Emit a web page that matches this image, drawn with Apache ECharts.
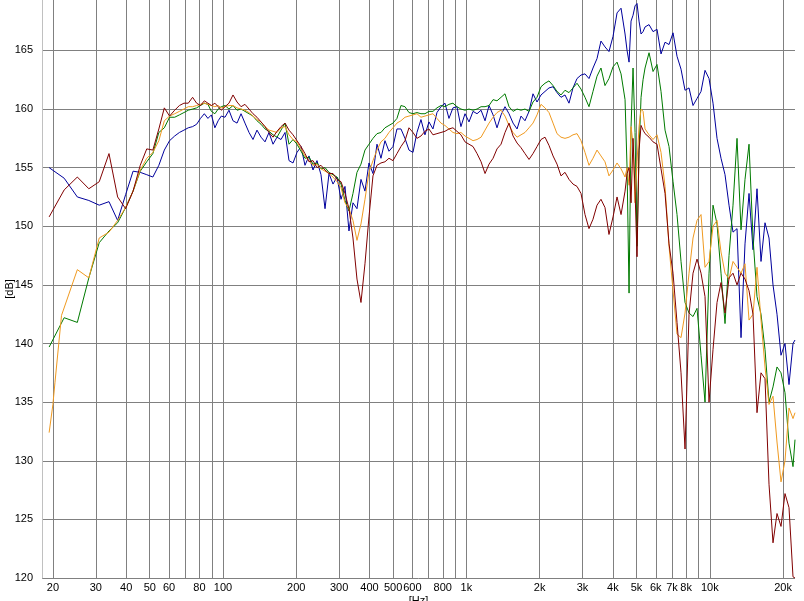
<!DOCTYPE html>
<html>
<head>
<meta charset="utf-8">
<script src="https://cdn.jsdelivr.net/npm/echarts@6/dist/echarts.min.js"></script>
<style>
html,body{margin:0;padding:0;background:#fff;}
#chart{width:804px;height:601px;}
</style>
</head>
<body>
<div id="chart"></div>
<script>
// Frequencies (Hz)
const freqs = [
19.3, 20.0, 20.4, 21.7, 22.25, 25.2, 28.1, 31.0, 34.0, 36.9, 39.8, 42.7, 45.7, 48.6, 51.5, 54.5, 57.4, 60.3, 63.3, 66.2, 69.1, 72.0, 75.0, 77.9, 80.8, 83.8, 86.7, 89.6, 92.6, 95.5, 98.4,
101.9, 105.8, 109.9, 114.2, 118.6, 123.1, 127.9, 132.8, 137.9, 143.3,
148.8, 154.5, 160.5, 166.7, 173.1, 179.8, 186.7, 193.9, 201.4, 209.2,
217.2, 225.6, 234.3, 243.3, 252.7, 262.5, 272.6, 283.1, 294.0, 305.4,
317.1, 329.3, 342.0, 355.2, 368.9, 383.1, 397.9, 413.2, 429.2, 445.7,
462.9, 480.8, 499.3, 518.5, 538.5, 559.3, 580.9, 603.3, 626.5, 650.7,
675.8, 701.8, 728.9, 757.0, 786.2, 816.5, 848.0, 880.7, 914.6, 949.9,
987, 1025, 1065, 1106, 1149, 1193, 1239, 1287, 1336, 1388,
1441, 1497, 1555, 1615, 1677, 1741, 1809, 1878, 1951, 2026,
2104, 2185, 2270, 2357, 2448, 2542, 2640, 2742, 2848, 2958,
3072, 3190, 3313, 3441, 3573, 3711, 3854, 4005, 4160, 4320,
4487,
4573, 4660, 4749, 4839, 4932, 5026, 5122, 5220, 5320, 5421,
5630, 5847, 6072, 6306, 6550, 6802, 7065, 7337, 7620, 7914,
8219, 8536, 8865, 9207, 9562, 9930, 10313, 10711, 11124, 11553,
11999, 12461, 12942, 13441, 13959, 14498, 15057, 15637, 16240, 16866,
17517, 18192, 18894, 19622, 20379, 21165, 21982,
22400
];

const blueDb = [
155.0, null, null, null, 154.1, 152.5, 152.2, 151.8, 152.1, 150.5, 152.7, 154.7, 154.6, 154.4, 154.2, 155.2, 156.5, 157.3, 157.7, 158.0, 158.2, 158.4, 158.5, 158.7, 159.2, 159.6, 159.2, 159.5, 158.4, 159.0, 159.4,
159.3, 159.9, 159.0, 158.8, 159.6, 158.8, 158.0, 157.4, 158.2, 157.6,
157.2, 158.0, 157.0, 157.6, 157.4, 158.0, 155.6, 155.4, 156.3, 156.8,
155.2, 156.0, 154.8, 155.6, 154.4, 151.5, 154.5, 153.6, 154.2, 152.3,
153.4, 149.6, 152.0, 151.5, 154.0, 153.0, 155.4, 154.5, 157.0, 155.8,
157.3, 156.4, 156.8, 158.3, 158.3, 157.5, 156.5, 156.3, 158.0, 159.1,
157.8, 158.9, 158.3, 159.7, 160.2, 160.5, 159.2, 160.1, 160.2, 158.5,
159.6, 158.9, 159.8, 159.6, 159.9, 159.0, 160.3, 159.5, 158.4, 159.5,
160.2, 159.6, 158.8, 158.3, 159.4, 159.0, 159.8, 161.3, 160.6, 161.2,
161.5, 161.8, 161.9, 161.4, 161.0, 161.2, 160.5, 161.8, 162.6, 162.9,
163.0, 162.6, 163.5, 164.3, 165.8, 165.3, 164.9, 166.2, 168.2, 168.6,
166.4,
165.0, 164.0, 167.5, 168.0, 168.8, 169.0, 167.5, 166.4, 166.6, 167.0,
167.2, 166.6, 166.8, 164.7, 165.7, 165.5, 166.5, 164.5, 163.4, 161.6,
161.8, 160.3, 160.9, 161.5, 163.3, 162.6, 160.5, 157.5, 155.8, 154.4,
151.8, 149.5, 149.8, 140.5, 148.5, 152.8, 148.0, 153.2, 147.0, 150.3,
149.0, 145.0, 142.5, 139.0, 140.0, 136.5, 140.0,
140.3
];

const greenDb = [
139.7, null, null, null, 142.2, 141.8, 145.6, 148.6, 149.6, 150.3, 151.6, 153.0, 154.7, 155.5, 156.2, 158.0, 158.4, 159.3, 159.3, 159.5, 159.7, 159.9, 160.0, 160.1, 160.3, 160.5, 160.4, 159.8, 159.6, 160.0, 160.2,
160.3, 160.0, 160.3, 159.9, 160.0, 159.8, 159.6, 159.4, 159.0, 158.7,
158.3, 158.1, 157.8, 157.6, 158.2, 158.8, 157.0, 157.4, 157.0, 156.4,
155.8, 155.9, 155.3, 155.4, 154.9, 155.0, 154.6, 154.4, 154.2, 153.6,
152.2, 151.3, 152.8, 154.6, 155.3, 156.5, 157.0, 157.5, 157.9, 158.0,
158.4, 158.6, 158.8, 159.2, 160.3, 160.2, 159.7, 159.6, 159.7, 159.6,
159.6, 159.8, 159.8, 160.1, 160.3, 160.2, 160.4, 160.5, 160.2, 160.0,
159.9, 160.0, 159.9, 160.0, 160.2, 160.2, 160.3, 160.8, 160.7, 161.0,
161.3, 160.2, 159.8, 160.0, 159.9, 160.0, 159.8, 160.6, 161.0, 161.9,
162.2, 162.4, 162.0, 161.5, 161.2, 161.6, 161.4, 161.8, 162.2, 161.7,
161.0, 160.2, 161.5, 162.8, 163.5, 162.0, 162.6, 163.6, 164.0, 163.0,
160.8,
155.0, 144.3, 158.5, 163.5, 158.0, 148.3, 156.5, 161.0, 162.5, 163.5,
164.8, 163.2, 163.8, 161.5, 158.2, 156.8, 153.8, 151.0, 147.0, 143.5,
142.6, 142.3, 143.0, 139.0, 135.0, 146.0, 151.8, 150.2, 146.0, 141.7,
147.5, 151.8, 157.5, 149.7, 154.0, 157.0, 149.0, 144.0, 142.5, 139.5,
135.0, 136.3, 138.0, 137.5, 135.8, 131.5, 129.5,
131.8
];

const orangeDb = [
132.4, 134.8, 136.7, 142.4, null, 146.3, 145.6, 149.0, 149.5, 150.5, 151.6, 153.0, 154.8, 155.8, 156.3, 157.3, 159.0, 159.4, 159.6, 159.8, 160.0, 160.2, 160.2, 160.3, 160.4, 160.5, 160.4, 160.3, 160.2, 160.3, 160.1,
160.2, 160.3, 160.3, 160.1, 160.0, 159.9, 159.7, 159.4, 159.1, 158.9,
158.5, 158.2, 158.1, 158.0, 158.4, 158.5, 157.8, 157.4, 157.2, 156.6,
156.0, 155.6, 155.2, 155.3, 154.9, 154.7, 154.5, 154.2, 153.8, 153.3,
152.0, 151.5, 150.5, 148.8, 150.2, 152.3, 154.6, 155.6, 156.5, 157.2,
157.5, 158.0, 158.4, 158.8, 159.0, 159.3, 159.4, 159.5, 159.6, 159.3,
159.4, 159.5, 159.6, 159.2, 158.8, 158.6, 158.3, 158.0, 157.9, 158.0,
157.7, 157.5, 157.3, 157.4, 157.6, 158.2, 158.8, 159.3, 159.7, 159.9,
159.4, 158.6, 158.0, 157.6, 157.8, 158.0, 158.4, 158.8, 159.5, 160.4,
160.1, 159.7, 158.8, 157.9, 157.6, 157.5, 157.6, 157.8, 157.9, 157.3,
156.3, 155.2, 155.8, 156.5, 156.0, 155.5, 154.3, 154.8, 155.4, 154.9,
154.2,
155.0, 153.5, 158.5, 157.0, 152.0, 155.5, 158.5, 160.0, 159.8, 158.3,
157.8, 157.4, 157.8, 156.3, 153.4, 148.3, 144.5, 140.8, 140.5, 142.6,
146.0, 149.0, 150.5, 151.0, 146.5, 147.0, 150.0, 150.5, 147.8, 146.0,
145.5, 147.0, 146.5, 146.0, 146.8, 142.0, 142.5, 146.5, 142.0, 138.0,
134.8, 135.5, 131.6, 128.2, 130.0, 134.5, 133.6,
134.1
];

const maroonDb = [
150.8, null, null, null, 153.1, 154.2, 153.2, 153.8, 156.2, 152.5, 151.5, 153.0, 155.2, 156.6, 156.5, 158.3, 160.1, 159.4, 159.9, 160.3, 160.5, 160.5, 161.0, 160.5, 160.3, 160.7, 160.5, 160.3, 160.5, 160.2, 159.9,
160.2, 160.5, 161.2, 160.6, 160.2, 160.4, 160.0, 159.6, 159.3, 158.9,
158.5, 158.0, 157.6, 158.1, 158.5, 158.8, 158.2, 157.8, 157.3, 156.8,
156.2, 155.5, 155.6, 155.0, 155.2, 154.8, 154.5, 154.5, 154.0, 153.8,
152.8, 151.5, 149.0, 145.5, 143.5, 146.8, 150.8, 154.3, 155.2, 155.4,
155.5, 155.8, 155.6, 156.2, 156.8, 157.3, 158.4, 158.0, 157.5, 157.7,
158.1, 158.3, 157.8, 157.9, 158.0, 158.1, 158.3, 158.4, 158.1, 157.8,
157.2, 157.0, 156.8, 156.2, 155.5, 154.5, 155.3, 155.8, 156.6, 157.0,
158.0, 158.8, 157.7, 157.1, 156.7, 156.2, 155.7, 156.2, 156.8, 157.4,
157.6, 156.9, 156.0, 155.3, 154.3, 154.6, 154.0, 153.6, 153.4, 152.8,
151.0, 149.8, 150.6, 151.8, 152.3, 151.6, 149.3, 150.8, 152.5, 151.0,
153.0,
154.5, 155.0, 152.0, 157.5, 153.0, 147.4, 156.5, 158.6, 158.2, 157.9,
157.6, 157.2, 157.0, 154.9, 152.8, 148.5, 146.0, 141.8, 137.5, 131.0,
142.5, 146.0, 147.2, 146.0, 144.0, 135.0, 139.5, 143.5, 145.2, 142.6,
145.6, 146.0, 145.0, 146.0, 145.5, 144.5, 142.5, 134.1, 137.5, 137.0,
128.0, 123.0, 125.5, 124.4, 127.2, 126.0, 120.1,
120.0
];

// Vertical grid lines and their labels
const xTicks = [20, 30, 40, 50, 60, 70, 80, 90, 100, 200, 300, 400, 500, 600, 700, 800, 900, 1000, 2000, 3000, 4000, 5000, 6000, 7000, 8000, 9000, 10000, 20000];
const xTickLabels = ['20', '30', '40', '50', '60', '', '80', '', '100', '200', '300', '400', '500', '600', '', '800', '', '1k', '2k', '3k', '4k', '5k', '6k', '7k', '8k', '', '10k', '20k'];

const seriesNames = ['blue', 'green', 'orange', 'maroon'];
const seriesColors = ['#00009c', '#007a00', '#f09a20', '#800000'];
const seriesValues = [blueDb, greenDb, orangeDb, maroonDb];

const chart = echarts.init(document.getElementById('chart'), null, {renderer: 'canvas'});
const FONT = 'Liberation Sans, Arial, sans-serif';

const series = [{
  type: 'line',
  name: 'grid',
  data: [],
  silent: true,
  clip: false,
  z: 1,
  markLine: {
    z: 1,
    silent: true,
    symbol: ['none', 'none'],
    animation: false,
    lineStyle: {color: '#808080', type: 'solid', width: 1},
    emphasis: {disabled: true},
    label: {
      show: true,
      position: 'start',
      distance: 4,
      color: '#000',
      fontSize: 11,
      fontFamily: FONT,
      formatter: p => xTickLabels[xTicks.indexOf(p.value)]
    },
    data: xTicks.map(v => ({xAxis: v}))
  }
}];

seriesValues.forEach((vals, k) => {
  series.push({
    type: 'line',
    name: seriesNames[k],
    data: freqs.map((f, i) => [f, vals[i]]),
    connectNulls: true,
    showSymbol: false,
    symbol: 'none',
    z: 2 + k,
    lineStyle: {color: seriesColors[k], width: 1},
    itemStyle: {color: seriesColors[k]},
    animation: false
  });
});

chart.setOption({
  backgroundColor: '#ffffff',
  animation: false,
  grid: {left: 42, right: 9, top: 0, bottom: 23, containLabel: false, outerBoundsMode: 'none'},
  xAxis: {
    type: 'log',
    logBase: 10,
    min: 18.04,
    max: 22400,
    name: '[Hz]',
    nameLocation: 'middle',
    nameGap: 17,
    nameMoveOverlap: false,
    nameTextStyle: {color: '#000', fontSize: 11, fontFamily: FONT},
    axisLine: {show: false},
    axisTick: {show: false},
    axisLabel: {show: false},
    splitLine: {show: false},
    minorTick: {show: false},
    minorSplitLine: {show: false}
  },
  yAxis: {
    type: 'value',
    min: 120,
    max: 169.3,
    interval: 5,
    name: '[dB]',
    nameLocation: 'middle',
    nameRotate: 90,
    nameGap: 27,
    nameMoveOverlap: false,
    nameTextStyle: {color: '#000', fontSize: 11, fontFamily: FONT},
    axisLine: {show: true, lineStyle: {color: '#c0c0c0', width: 1}},
    axisTick: {show: false},
    axisLabel: {color: '#000', fontSize: 11, fontFamily: FONT, margin: 9, showMaxLabel: false},
    splitLine: {show: true, showMaxLine: false, lineStyle: {color: '#808080', width: 1}}
  },
  series: series
});
</script>
</body>
</html>
